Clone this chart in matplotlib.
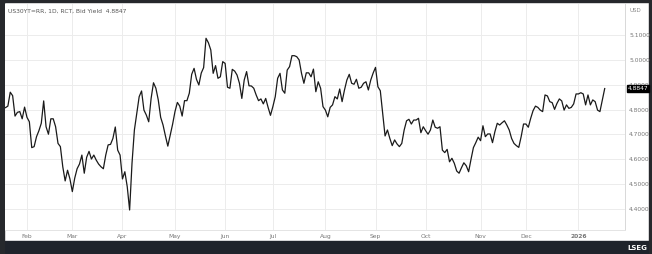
import pandas as pd
import matplotlib
matplotlib.use("Agg")
import matplotlib.pyplot as plt
from matplotlib.patches import Rectangle

# US 30Y Treasury bid yield, daily
yields = [
    4.808, 4.814, 4.870, 4.856, 4.774, 4.789, 4.792, 4.763, 4.810, 4.769,
    4.751, 4.647, 4.651, 4.691, 4.715, 4.745, 4.835, 4.731, 4.701, 4.763,
    4.763, 4.731, 4.664, 4.651, 4.570, 4.513, 4.556, 4.521, 4.470, 4.524,
    4.562, 4.581, 4.617, 4.544, 4.608, 4.632, 4.601, 4.617, 4.597, 4.581,
    4.570, 4.562,
    4.617, 4.658, 4.660, 4.684, 4.730, 4.637, 4.617, 4.521, 4.550, 4.490,
    4.396, 4.584, 4.718, 4.785, 4.852, 4.875, 4.798, 4.778, 4.751, 4.845,
    4.908, 4.886, 4.839, 4.769, 4.738, 4.694, 4.653, 4.698, 4.741, 4.792,
    4.829, 4.814, 4.774, 4.836, 4.836, 4.866, 4.942, 4.966, 4.922, 4.899,
    4.947, 4.969,
    5.087, 5.069, 5.040, 4.946, 4.977, 4.926, 4.932, 4.993, 4.986, 4.890,
    4.886, 4.962, 4.955, 4.939, 4.906, 4.845, 4.919, 4.953, 4.896, 4.895,
    4.886, 4.859, 4.836, 4.843, 4.823, 4.845, 4.809, 4.777, 4.812, 4.852,
    4.926, 4.946, 4.879, 4.866, 4.959, 4.973, 5.017, 5.017, 5.013, 5.000,
    4.946,
    4.906, 4.948, 4.948, 4.932, 4.963, 4.872, 4.912, 4.886, 4.812, 4.798,
    4.771, 4.809, 4.819, 4.852, 4.843, 4.883, 4.832, 4.879, 4.919, 4.942,
    4.906, 4.902, 4.922, 4.886, 4.890, 4.906, 4.912, 4.879, 4.919, 4.947,
    4.970, 4.892, 4.876, 4.785, 4.694, 4.718, 4.684, 4.655, 4.678, 4.662,
    4.651, 4.664,
    4.718, 4.755, 4.761, 4.742, 4.758, 4.758, 4.765, 4.707, 4.731, 4.715,
    4.701, 4.718, 4.758, 4.729, 4.725, 4.731, 4.637, 4.627, 4.640, 4.590,
    4.604, 4.584, 4.553, 4.544, 4.566, 4.586, 4.574, 4.550, 4.600, 4.647,
    4.667, 4.689, 4.675, 4.735, 4.691, 4.702, 4.702, 4.667, 4.711, 4.745,
    4.738,
    4.747, 4.755, 4.738, 4.718, 4.684, 4.664, 4.655, 4.648, 4.691, 4.742,
    4.742, 4.729, 4.765, 4.796, 4.814, 4.809, 4.798, 4.792, 4.859, 4.855,
    4.832, 4.828, 4.801, 4.825, 4.843, 4.835, 4.798, 4.819, 4.805, 4.809,
    4.823, 4.863, 4.863, 4.868, 4.863, 4.819, 4.859, 4.819, 4.839, 4.832,
    4.798, 4.792, 4.839, 4.8847,
]
start_date = "2025-01-21"
holidays = ["2025-02-17", "2025-05-26", "2025-06-19", "2025-07-04", "2025-09-01",
            "2025-11-27", "2025-12-25", "2026-01-01", "2026-01-19"]
y_ticks = [4.4, 4.5, 4.6, 4.7, 4.8, 4.9, 5.0, 5.1]
title = "US30YT=RR, 1D, RCT, Bid Yield  4.8847"

# trading days (gap-free axis like the terminal chart)
bday = pd.offsets.CustomBusinessDay(holidays=holidays)
dates = pd.date_range(start_date, periods=len(yields), freq=bday)
idx = list(range(len(yields)))

# first trading day of every month -> tick
tick_pos, tick_lab = [], []
for i, d in enumerate(dates):
    if i > 0 and d.month != dates[i - 1].month:
        tick_pos.append(i)
        tick_lab.append(str(d.year) if d.month == 1 else d.strftime("%b"))

W, H = 652, 254
fig = plt.figure(figsize=(W / 100, H / 100), dpi=100)
fig.patch.set_facecolor("white")

# dark frame around the screenshot
fig.add_artist(Rectangle((0, 0), 1, 13 / H, transform=fig.transFigure, color="#1f232b", zorder=0))
fig.add_artist(Rectangle((0, 0), 4 / W, 1, transform=fig.transFigure, color="#26282c", zorder=0))
fig.add_artist(Rectangle((1 - 3 / W, 0), 3 / W, 1, transform=fig.transFigure, color="#26282c", zorder=0))
fig.add_artist(Rectangle((0, 1 - 2 / H), 1, 2 / H, transform=fig.transFigure, color="#26282c", zorder=0))

ax = fig.add_axes([5 / W, 24 / H, 620 / W, 226 / H])
ax.plot(idx, yields, color="#1a1a1a", lw=0.9)

ax.set_ylim(4.3155, 5.225)
ax.set_xlim(-0.2, 259.5)
ax.set_yticks(y_ticks)
ax.set_yticklabels([f"{v:.4f}" for v in y_ticks])
ax.yaxis.tick_right()
ax.set_xticks(tick_pos)
ax.set_xticklabels(tick_lab)
for lab in ax.get_xticklabels():
    if lab.get_text() == "2026":
        lab.set_fontweight("bold")
        lab.set_color("#333333")

ax.tick_params(axis="both", length=0, labelsize=4.3, colors="#777777")
ax.tick_params(axis="x", pad=3)
ax.tick_params(axis="y", pad=3)
ax.grid(True, color="#ececec", lw=0.7)
for s in ["top", "left"]:
    ax.spines[s].set_visible(False)
ax.spines["right"].set_color("#d8d8d8")
ax.spines["right"].set_linewidth(0.7)
ax.spines["bottom"].set_color("#e4e4e4")
ax.spines["bottom"].set_linewidth(0.7)

# last value box on the price scale (covers the 4.9000 label as in the terminal)
ax.annotate(f"{yields[-1]:.4f}", xy=(1, yields[-1]), xycoords=("axes fraction", "data"),
            xytext=(2, 0), textcoords="offset points", va="center", ha="left",
            fontsize=4.3, color="white", zorder=10, annotation_clip=False,
            bbox=dict(boxstyle="square,pad=0.15", fc="black", ec="black"))

fig.text(8 / W, 1 - 11 / H, title, fontsize=4.3, color="#555555", va="center", ha="left")
fig.text(630 / W, 1 - 11 / H, "USD", fontsize=4.0, color="#888888", va="center", ha="left")
fig.text(647 / W, 6 / H, "LSEG", fontsize=5, color="white", fontweight="bold", va="center", ha="right")

fig.savefig("out.png", dpi=100)
